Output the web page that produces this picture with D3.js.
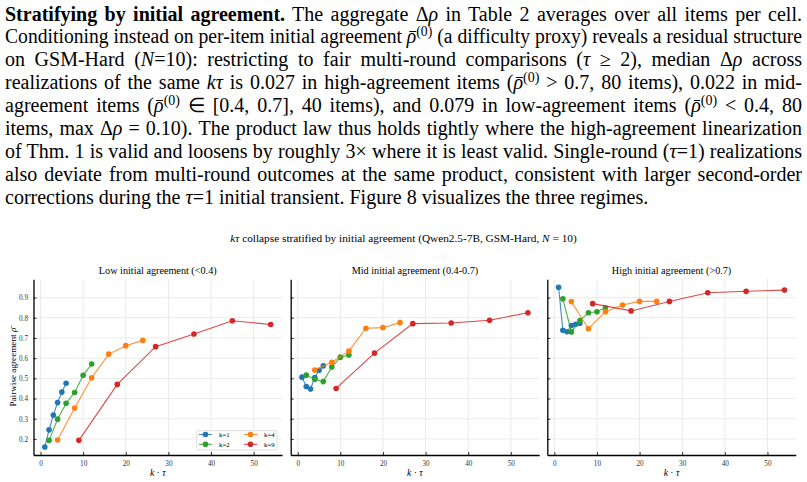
<!DOCTYPE html>
<html><head><meta charset="utf-8">
<script src="https://cdn.jsdelivr.net/npm/d3@7"></script>
<style>
html,body{margin:0;padding:0;background:#fff;width:807px;height:482px;overflow:hidden}
#para{position:absolute;left:0;top:0;width:807px;height:220px;font-family:"Liberation Serif","Times New Roman",serif;font-size:20px;color:#000}
.ln{position:absolute;left:5px;white-space:nowrap;line-height:23px;height:23px}
sup{font-size:0.7em;line-height:0;vertical-align:0.5em}
.rb{position:relative;font-style:italic}
.rb::after{content:"";position:absolute;left:0.12em;right:0.02em;top:0.3em;border-top:1px solid #000}
svg{position:absolute;left:0;top:0}
svg text{font-family:"Liberation Serif","Times New Roman",serif}
</style></head><body>
<svg id="chart" width="807" height="482"></svg>
<div id="para"></div>
<script>
// ---------------- data ----------------
const paragraphLines = [
  '<b>Stratifying by initial agreement.</b> The aggregate Δ<i>ρ</i> in Table 2 averages over all items per cell.',
  'Conditioning instead on per-item initial agreement <span class="rb">ρ</span><sup>(0)</sup> (a difficulty proxy) reveals a residual structure',
  'on GSM-Hard (<i>N</i>=10): restricting to fair multi-round comparisons (<i>τ</i> ≥ 2), median Δ<i>ρ</i> across',
  'realizations of the same <i>kτ</i> is 0.027 in high-agreement items (<span class="rb">ρ</span><sup>(0)</sup> &gt; 0.7, 80 items), 0.022 in mid-',
  'agreement items (<span class="rb">ρ</span><sup>(0)</sup> ∈ [0.4, 0.7], 40 items), and 0.079 in low-agreement items (<span class="rb">ρ</span><sup>(0)</sup> &lt; 0.4, 80',
  'items, max Δ<i>ρ</i> = 0.10). The product law thus holds tightly where the high-agreement linearization',
  'of Thm. 1 is valid and loosens by roughly 3× where it is least valid. Single-round (<i>τ</i>=1) realizations',
  'also deviate from multi-round outcomes at the same product, consistent with larger second-order',
  'corrections during the <i>τ</i>=1 initial transient. Figure 8 visualizes the three regimes.'
];

const kValues = [1, 2, 4, 9];
const tauValues = [1, 2, 3, 4, 5, 6];
const seriesLabels = ["k=1", "k=2", "k=4", "k=9"];
const seriesColors = ["#1f77b4", "#2ca02c", "#ff7f0e", "#d62728"];
const panelTitles = ["Low initial agreement (<0.4)", "Mid initial agreement (0.4-0.7)", "High initial agreement (>0.7)"];

const low_k1 = [0.160, 0.245, 0.318, 0.380, 0.432, 0.476];
const low_k2 = [0.193, 0.298, 0.377, 0.430, 0.515, 0.571];
const low_k4 = [0.195, 0.353, 0.503, 0.620, 0.662, 0.688];
const low_k9 = [0.193, 0.470, 0.657, 0.720, 0.785, 0.767];

const mid_k1 = [0.506, 0.460, 0.447, 0.504, 0.540, 0.562];
const mid_k2 = [0.516, 0.496, 0.484, 0.556, 0.605, 0.616];
const mid_k4 = [0.541, 0.580, 0.635, 0.748, 0.751, 0.776];
const mid_k9 = [0.450, 0.625, 0.771, 0.774, 0.788, 0.825];

const high_k1 = [0.951, 0.738, 0.731, 0.762, 0.768, 0.773];
const high_k2 = [0.894, 0.730, 0.786, 0.825, 0.830, 0.850];
const high_k4 = [0.880, 0.746, 0.830, 0.863, 0.881, 0.881];
const high_k9 = [0.870, 0.834, 0.881, 0.924, 0.931, 0.937];

const xTicks = [0, 10, 20, 30, 40, 50];
const yTicks = [0.2, 0.3, 0.4, 0.5, 0.6, 0.7, 0.8, 0.9];

// ---------------- paragraph ----------------
const para = d3.select("#para");
const lineTop0 = 2.5, lineStep = 22.9, lineTarget = 797;
paragraphLines.forEach((html, i) => {
  const d = para.append("div").attr("class", "ln").style("top", (lineTop0 + i * lineStep) + "px").html(html);
  if (i < paragraphLines.length - 1) {
    const w = d.node().getBoundingClientRect().width;
    const spaces = (d.node().textContent.match(/ /g) || []).length;
    if (w <= lineTarget) d.style("word-spacing", ((lineTarget - w) / spaces) + "px");
    else d.style("transform", `scaleX(${lineTarget / w})`).style("transform-origin", "0 0");
  }
});

// ---------------- chart ----------------
const svg = d3.select("#chart");
const serif = '"Liberation Serif","Times New Roman",serif';
const panelSeries = [
  [low_k1, low_k2, low_k4, low_k9],
  [mid_k1, mid_k2, mid_k4, mid_k9],
  [high_k1, high_k2, high_k4, high_k9]
];
const panelLeft = [33.5, 290.7, 547.3], panelWidth = 248.5;
const plotTop = 279.3, plotBottom = 455;

const allX = kValues.flatMap(k => tauValues.map(t => k * t));
const xExt = d3.extent(allX), xPad = (xExt[1] - xExt[0]) * 0.05;
const allY = panelSeries.flat(2);
const yExt = d3.extent(allY), yPad = (yExt[1] - yExt[0]) * 0.05;
const y = d3.scaleLinear().domain([yExt[0] - yPad, yExt[1] + yPad]).range([plotBottom, plotTop]);

// figure title
const ft = svg.append("text").attr("x", 403.5).attr("y", 242).attr("text-anchor", "middle")
  .attr("font-size", 11.3).attr("font-family", serif).attr("fill", "#000");
ft.append("tspan").attr("font-style", "italic").text("kτ");
ft.append("tspan").text(" collapse stratified by initial agreement (Qwen2.5-7B, GSM-Hard, ");
ft.append("tspan").attr("font-style", "italic").text("N");
ft.append("tspan").text(" = 10)");

// y label
const yl = svg.append("text").attr("transform", `translate(16,${(plotTop + plotBottom) / 2}) rotate(-90)`)
  .attr("text-anchor", "middle").attr("font-size", 9.2).attr("font-family", serif).attr("fill", "#000");
yl.append("tspan").text("Pairwise agreement ");
yl.append("tspan").attr("font-style", "italic").text("ρ̄");

panelSeries.forEach((series, p) => {
  const x = d3.scaleLinear().domain([xExt[0] - xPad, xExt[1] + xPad])
    .range([panelLeft[p], panelLeft[p] + panelWidth]);
  const g = svg.append("g");

  // grid
  g.append("g").selectAll("line").data(xTicks).join("line")
    .attr("x1", d => x(d)).attr("x2", d => x(d)).attr("y1", plotTop).attr("y2", plotBottom)
    .attr("stroke", "#e4e4e4").attr("stroke-width", 0.8);
  g.append("g").selectAll("line").data(yTicks).join("line")
    .attr("y1", d => y(d)).attr("y2", d => y(d)).attr("x1", panelLeft[p]).attr("x2", panelLeft[p] + panelWidth)
    .attr("stroke", "#e4e4e4").attr("stroke-width", 0.8);

  // axes
  const xa = g.append("g").attr("transform", `translate(0,${plotBottom})`)
    .call(d3.axisBottom(x).tickValues(xTicks).tickSizeInner(-3).tickSizeOuter(0).tickPadding(5.5));
  const ya = g.append("g").attr("transform", `translate(${panelLeft[p]},0)`)
    .call(d3.axisLeft(y).tickValues(yTicks).tickSizeInner(-3).tickSizeOuter(0).tickPadding(5.5)
      .tickFormat(p === 0 ? d3.format(".1f") : () => ""));
  [xa, ya].forEach(a => {
    a.attr("font-family", serif);
    a.select(".domain").attr("stroke", "#000").attr("stroke-width", 1.3);
    a.selectAll(".tick line").attr("stroke", "#000").attr("stroke-width", 0.8);
    a.selectAll(".tick text").attr("font-size", 7.2).attr("fill", "#333").attr("font-family", serif);
  });

  // panel title
  g.append("text").attr("x", panelLeft[p] + panelWidth / 2).attr("y", 274).attr("text-anchor", "middle")
    .attr("font-size", 10.2).attr("font-family", serif).attr("fill", "#000").text(panelTitles[p]);

  // x label
  const xl = g.append("text").attr("x", panelLeft[p] + panelWidth / 2).attr("y", 475.5).attr("text-anchor", "middle")
    .attr("font-size", 9.6).attr("font-family", serif).attr("fill", "#000");
  xl.append("tspan").attr("font-style", "italic").text("k");
  xl.append("tspan").text(" · ");
  xl.append("tspan").attr("font-style", "italic").text("τ");

  // series
  const line = d3.line().x(d => x(d[0])).y(d => y(d[1]));
  series.forEach((vals, s) => {
    const pts = tauValues.map((t, i) => [kValues[s] * t, vals[i]]);
    g.append("path").datum(pts).attr("d", line).attr("fill", "none")
      .attr("stroke", seriesColors[s]).attr("stroke-width", 1.1).attr("stroke-opacity", 0.85);
    g.append("g").selectAll("circle").data(pts).join("circle")
      .attr("cx", d => x(d[0])).attr("cy", d => y(d[1])).attr("r", 2.8)
      .attr("fill", seriesColors[s]);
  });

  // legend in first panel
  if (p === 0) {
    const lg = g.append("g").attr("transform", "translate(196.7,430.7)");
    lg.append("rect").attr("width", 80.3).attr("height", 19.3).attr("rx", 1.5)
      .attr("fill", "#fff").attr("fill-opacity", 0.85).attr("stroke", "#d0d0d0").attr("stroke-width", 0.7);
    const order = [0, 2, 1, 3];
    order.forEach((s, i) => {
      const c = i % 2, r = Math.floor(i / 2);
      const ox = [2.3, 47.3][c], oy = [3.8, 13.6][r];
      lg.append("line").attr("x1", ox).attr("x2", ox + 13).attr("y1", oy).attr("y2", oy)
        .attr("stroke", seriesColors[s]).attr("stroke-width", 1.1).attr("stroke-opacity", 0.85);
      lg.append("circle").attr("cx", ox + 6.5).attr("cy", oy).attr("r", 2.8).attr("fill", seriesColors[s]);
      lg.append("text").attr("x", ox + 20).attr("y", oy + 2.3).attr("font-size", 6.8)
        .attr("font-family", serif).attr("fill", "#000").text(seriesLabels[s]);
    });
  }
});
</script>
</body></html>
